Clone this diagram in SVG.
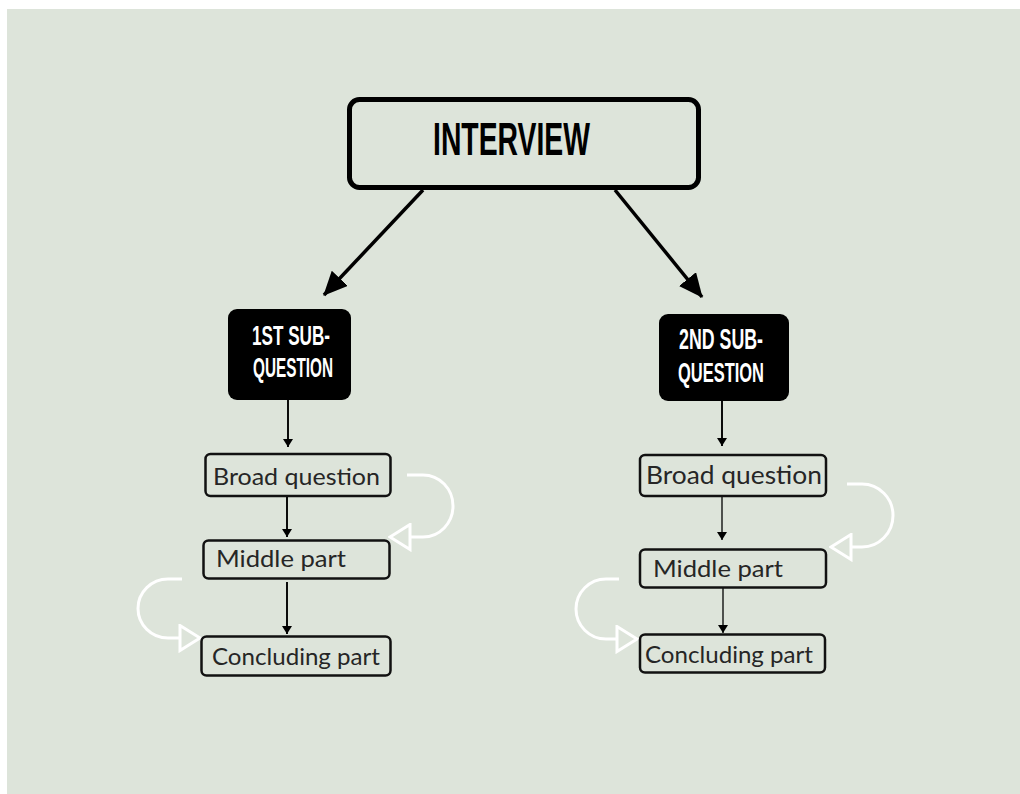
<svg xmlns="http://www.w3.org/2000/svg" width="1020" height="794" viewBox="0 0 1020 794">
  <defs>
    <style>
      .bg { fill: #dde4da; }
      .main { fill: #dde4da; stroke: #000; stroke-width: 5; }
      .sub { fill: #000; }
      .step { fill: #dde4da; stroke: #111; stroke-width: 2.5; }
      .head { font-family: "Liberation Sans", Arial, sans-serif; font-weight: bold; text-anchor: middle; }
      .lbl { font-family: Lato, "Liberation Sans", sans-serif; fill: #262626; }
      .thick { stroke: #000; stroke-width: 3.5; fill: none; }
      .thin { stroke: #000; stroke-width: 1.9; fill: none; }
      .hair { stroke: #000; stroke-width: 1.3; fill: none; }
      .loop { stroke: #fff; stroke-width: 3; fill: none; }
    </style>
    <marker id="bigHead" markerUnits="userSpaceOnUse" viewBox="0 0 24 22" refX="23" refY="11" markerWidth="24" markerHeight="22" orient="auto">
      <path d="M0,0 L24,11 L0,22 z" fill="#000"/>
    </marker>
    <marker id="smallHead" markerUnits="userSpaceOnUse" viewBox="0 0 8 10" refX="8" refY="5" markerWidth="8" markerHeight="10" orient="auto">
      <path d="M0,0 L8,5 L0,10 z" fill="#000"/>
    </marker>
    <marker id="hollowHead" markerUnits="userSpaceOnUse" viewBox="-2 -2 24 29" refX="0" refY="12.5" markerWidth="24" markerHeight="29" orient="auto">
      <path d="M0,0 L20,12.5 L0,25 z" fill="none" stroke="#fff" stroke-width="3"/>
    </marker>
  </defs>

  <rect x="0" y="0" width="1020" height="794" fill="#ffffff"/>
  <rect class="bg" x="7" y="9" width="1013" height="785"/>

  <g id="connectors">
    <line class="thick" x1="423" y1="190" x2="324" y2="295" marker-end="url(#bigHead)"/>
    <line class="thick" x1="615" y1="190" x2="702" y2="297" marker-end="url(#bigHead)"/>
    <line class="thin" x1="288" y1="400" x2="288" y2="447" marker-end="url(#smallHead)"/>
    <line class="thin" x1="287" y1="496" x2="287" y2="537" marker-end="url(#smallHead)"/>
    <line class="thin" x1="287" y1="582" x2="287" y2="634" marker-end="url(#smallHead)"/>
    <line class="thin" x1="722" y1="401" x2="722" y2="446" marker-end="url(#smallHead)"/>
    <line class="hair" x1="722" y1="497" x2="722" y2="540" marker-end="url(#smallHead)"/>
    <line class="hair" x1="723" y1="588" x2="723" y2="633" marker-end="url(#smallHead)"/>
    <path class="loop" d="M407,475 H423 A30,31 0 0 1 423,537 H410" marker-end="url(#hollowHead)"/>
    <path class="loop" d="M182,579 H168 A30,29.5 0 0 0 168,638 H180" marker-end="url(#hollowHead)"/>
    <path class="loop" d="M847,484 H862 A31,31.5 0 0 1 862,547 H851" marker-end="url(#hollowHead)"/>
    <path class="loop" d="M619,579 H606 A30,30 0 0 0 606,639 H617" marker-end="url(#hollowHead)"/>
  </g>

  <g id="interview">
    <rect class="main" x="349.5" y="99.5" width="349" height="88" rx="10"/>
    <text class="head" x="511.5" y="155" font-size="46" textLength="157" lengthAdjust="spacingAndGlyphs" fill="#000">INTERVIEW</text>
  </g>

  <g id="sub1">
    <rect class="sub" x="228" y="309" width="123" height="91" rx="9"/>
    <text class="head" x="291" y="345" font-size="28" textLength="78" lengthAdjust="spacingAndGlyphs" fill="#fff">1ST SUB-</text>
    <text class="head" x="293" y="377" font-size="28" textLength="80" lengthAdjust="spacingAndGlyphs" fill="#fff">QUESTION</text>
  </g>

  <g id="sub2">
    <rect class="sub" x="659" y="314" width="130" height="87" rx="9"/>
    <text class="head" x="721" y="349" font-size="29" textLength="84" lengthAdjust="spacingAndGlyphs" fill="#fff">2ND SUB-</text>
    <text class="head" x="721" y="382" font-size="28" textLength="86" lengthAdjust="spacingAndGlyphs" fill="#fff">QUESTION</text>
  </g>

  <g id="broad1">
    <rect class="step" x="205.5" y="454" width="185" height="42" rx="5"/>
    <text class="lbl" x="213" y="485" font-size="24" textLength="167" lengthAdjust="spacingAndGlyphs">Broad question</text>
  </g>
  <g id="middle1">
    <rect class="step" x="203.5" y="540.5" width="186" height="38" rx="5"/>
    <text class="lbl" x="216" y="567" font-size="24" textLength="130" lengthAdjust="spacingAndGlyphs">Middle part</text>
  </g>
  <g id="concl1">
    <rect class="step" x="201.5" y="636.5" width="189" height="39" rx="5"/>
    <text class="lbl" x="212" y="665" font-size="24" textLength="168" lengthAdjust="spacingAndGlyphs">Concluding part</text>
  </g>

  <g id="broad2">
    <rect class="step" x="640" y="455" width="186" height="41" rx="5"/>
    <text class="lbl" x="646" y="484" font-size="25" textLength="176" lengthAdjust="spacingAndGlyphs">Broad question</text>
  </g>
  <g id="middle2">
    <rect class="step" x="640" y="549.5" width="186" height="38" rx="5"/>
    <text class="lbl" x="653" y="577" font-size="24" textLength="130" lengthAdjust="spacingAndGlyphs">Middle part</text>
  </g>
  <g id="concl2">
    <rect class="step" x="640" y="634.5" width="185" height="38" rx="5"/>
    <text class="lbl" x="645" y="663" font-size="24" textLength="168" lengthAdjust="spacingAndGlyphs">Concluding part</text>
  </g>
</svg>
